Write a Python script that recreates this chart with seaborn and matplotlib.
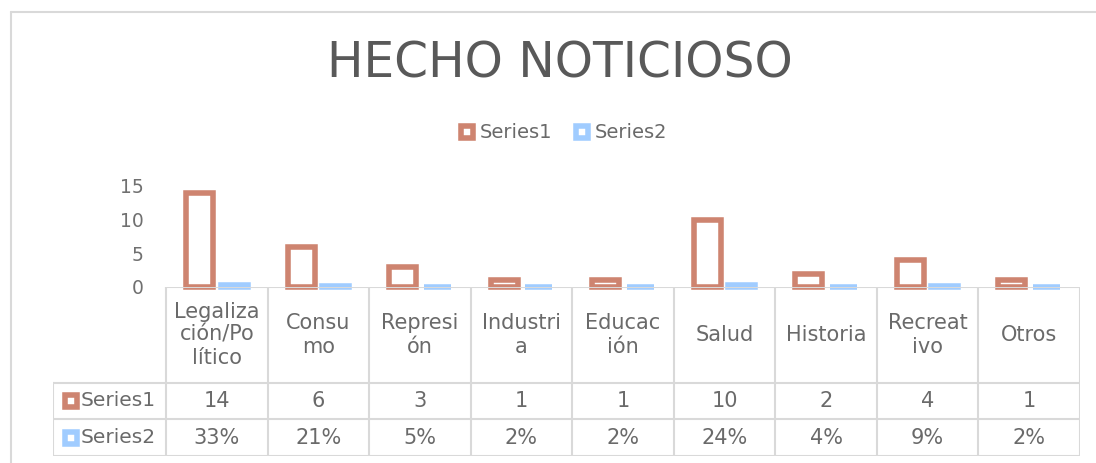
import numpy as np
import pandas as pd
import matplotlib
matplotlib.use("Agg")
import matplotlib.pyplot as plt
import seaborn as sns
from matplotlib.lines import Line2D

# Datos
categorias = ["Legaliza\nción/Po\nlítico", "Consu\nmo", "Represi\nón", "Industri\na",
              "Educac\nión", "Salud", "Historia", "Recreat\nivo", "Otros"]
series1 = [14, 6, 3, 1, 1, 10, 2, 4, 1]
series2 = [0.33, 0.21, 0.05, 0.02, 0.02, 0.24, 0.04, 0.09, 0.02]
nombres = ["Series1", "Series2"]

rojo = "#CE8470"
azul = "#A0CCFF"
gris = "#595959"
gris_txt = "#6a6a6a"
linea = "#D9D9D9"

sns.set_theme(style="white")
plt.rcParams["font.family"] = ["DejaVu Sans"]

df = pd.DataFrame({
    "cat": categorias * 2,
    "valor": series1 + series2,
    "serie": [nombres[0]] * len(categorias) + [nombres[1]] * len(categorias),
})

W, H = 1096, 463
fig = plt.figure(figsize=(W / 100, H / 100), dpi=100)


def caja(x0, y0, x1, y1):
    # caja en pixeles (origen arriba a la izquierda) -> coords de figura
    return [x0 / W, 1 - y1 / H, (x1 - x0) / W, (y1 - y0) / H]


# Grafico de barras
ax = fig.add_axes(caja(166, 186, 1080, 287))
sns.barplot(data=df, x="cat", y="valor", hue="serie", palette=[rojo, azul],
            width=0.68, gap=0.22, ax=ax, legend=False)
for cont, fc, ec in zip(ax.containers, ["white", azul], [rojo, azul]):
    for p in cont:
        p.set_facecolor(fc)
        p.set_edgecolor(ec)
        p.set_linewidth(4.0)
        p.set_joinstyle("miter")
        p.set_clip_on(False)

ax.set_xlim(-0.5, len(categorias) - 0.5)
ax.set_ylim(0, 15)
ax.set_yticks([0, 5, 10, 15])
ax.set_xticks([])
ax.set_xlabel("")
ax.set_ylabel("")
ax.tick_params(axis="y", labelsize=13.5, labelcolor="#707070", length=0, pad=16)
sns.despine(ax=ax, left=True, bottom=True)
ax.patch.set_alpha(0)

# Tabla de datos
n = len(categorias)
unidad = n / (1080 - 166)
izq = -0.5 - (166 - 53) * unidad
tax = fig.add_axes(caja(53, 287, 1080, 456))
tax.set_xlim(izq, n - 0.5)
tax.set_ylim(169, 0)
tax.axis("off")

kw = dict(color=linea, lw=1.5, solid_capstyle="projecting")
tax.plot([-0.5, n - 0.5], [0, 0], **kw)
for y in [96, 132, 169]:
    tax.plot([izq, n - 0.5], [y, y], **kw)
for i in range(n + 1):
    tax.plot([i - 0.5, i - 0.5], [0, 169], **kw)
tax.plot([izq, izq], [96, 169], **kw)

for i, cat in enumerate(categorias):
    tax.text(i, 48, cat, ha="center", va="center", fontsize=15, color=gris_txt, linespacing=1.2)
    tax.text(i, 114, f"{series1[i]}", ha="center", va="center", fontsize=15, color=gris_txt)
    tax.text(i, 150.5, f"{series2[i]:.0%}", ha="center", va="center", fontsize=15, color=gris_txt)

for y, nombre, col in [(114, nombres[0], rojo), (150.5, nombres[1], azul)]:
    tax.plot([izq + 18 * unidad], [y], marker="s", ms=8.5, mew=4, mfc="white", mec=col, ls="")
    tax.text(izq + 28 * unidad, y, nombre, ha="left", va="center", fontsize=14.5, color=gris_txt)

# Leyenda
handles = [Line2D([], [], marker="s", ls="", ms=8.5, mew=4, mfc="white", mec=c) for c in [rojo, azul]]
fig.legend(handles, nombres, loc="center", bbox_to_anchor=(563 / W, 1 - 133 / H), ncol=2,
           frameon=False, fontsize=14, handlelength=0.9, handletextpad=0.2,
           columnspacing=1.1, labelcolor=gris_txt)

# Titulo
fig.text(559.5 / W, 1 - 63.5 / H, "HECHO NOTICIOSO", ha="center", va="center",
         fontsize=35, color=gris)

# Borde del grafico
fig.add_artist(Line2D([11 / W, 11 / W], [0, 1 - 12 / H], color=linea, lw=1.5, transform=fig.transFigure))
fig.add_artist(Line2D([11 / W, 1], [1 - 12 / H, 1 - 12 / H], color=linea, lw=1.5, transform=fig.transFigure))

fig.savefig("out.png", dpi=100)
